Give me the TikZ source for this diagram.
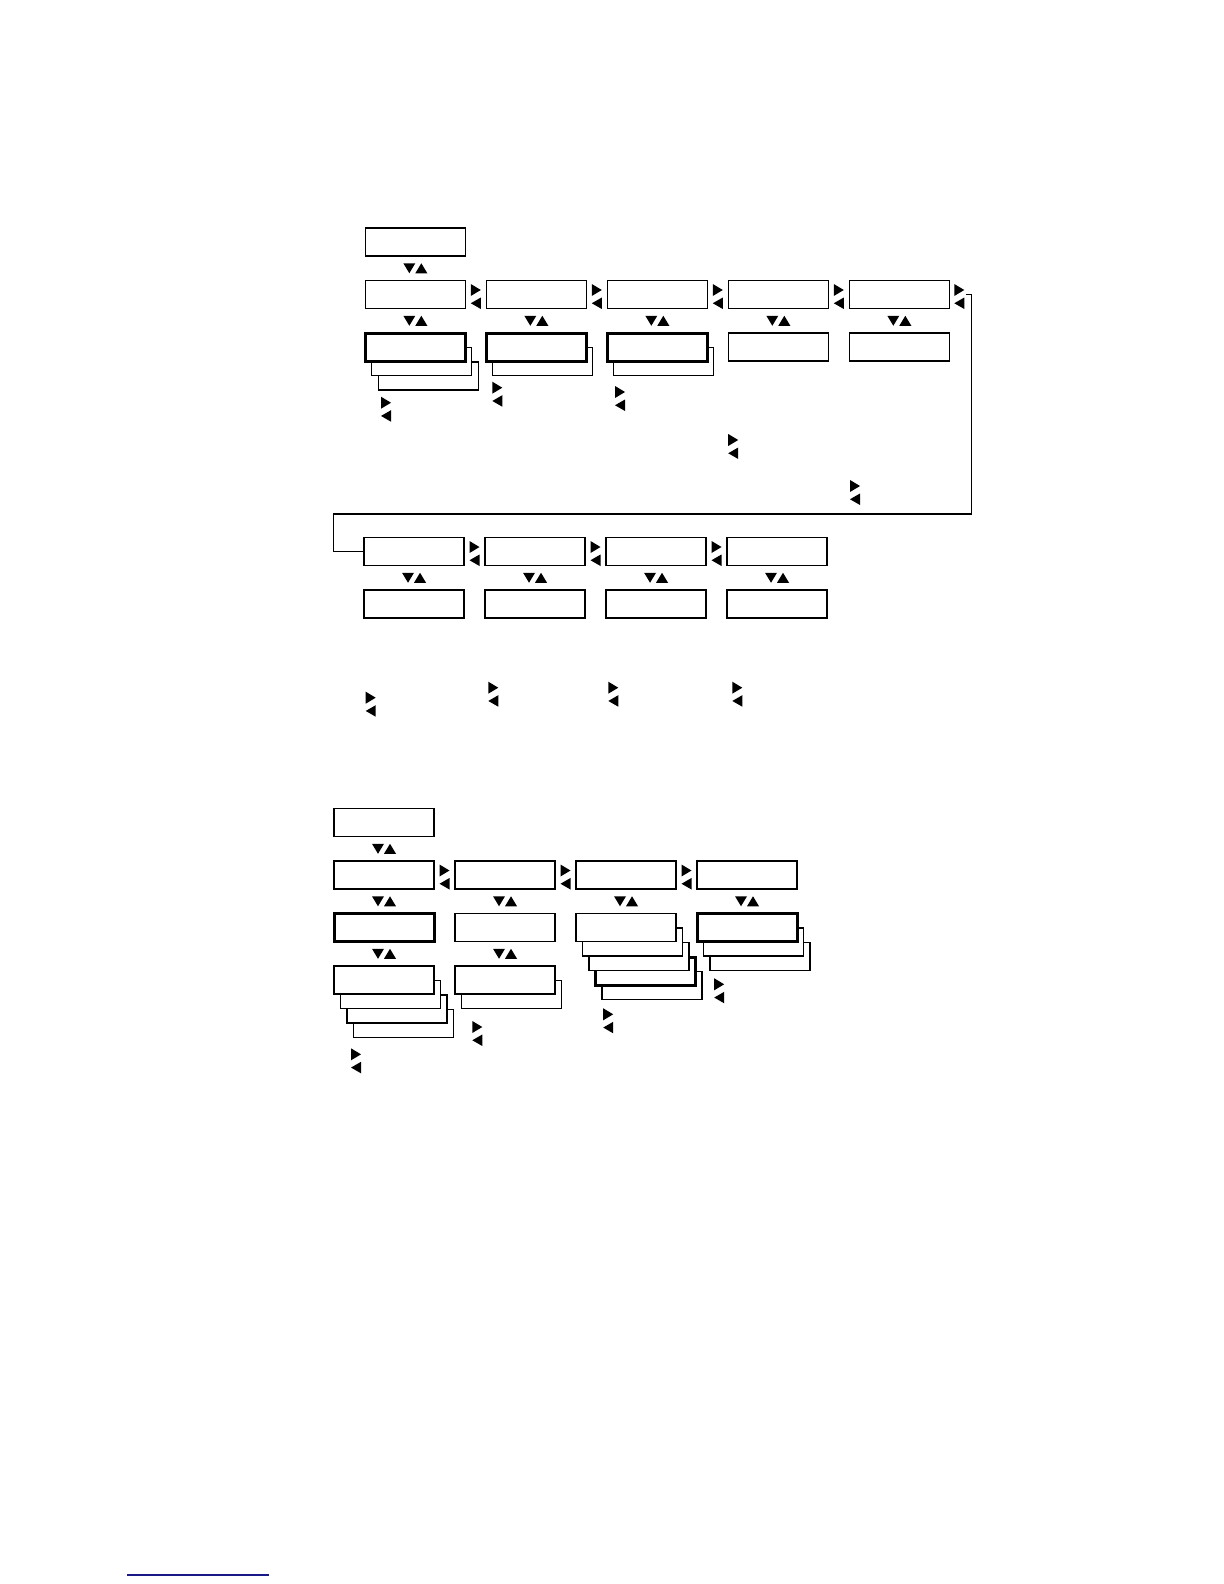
\documentclass[tikz,border=0pt]{standalone}
\usepackage{tikz}
\usetikzlibrary{positioning, calc, backgrounds}
\definecolor{linkblue}{RGB}{25,25,135}

% down/up and right/left key marks
\newcommand{\updn}[1]{%
  \fill #1 ++(-12,-5) -- ++(12,0) -- ++(-6,10) -- cycle;
  \fill #1 ++(0,5) -- ++(12,0) -- ++(-6,-10) -- cycle;}
\newcommand{\rtlt}[1]{%
  \fill #1 ++(-5,-10.5) -- ++(0,12) -- ++(10,-6) -- cycle;
  \fill #1 ++(5,3) -- ++(0,11.5) -- ++(-10,-5.75) -- cycle;}

\begin{document}
\begin{tikzpicture}[
    x=0.5pt, y=-0.5pt,
    node distance=12.25pt and 10.5pt,
    box/.style={rectangle, draw, fill=white, line width=0.65pt, minimum width=50pt, minimum height=14pt, inner sep=0pt, outer sep=0pt},
    sel/.style={box, line width=1.5pt},
    link/.style={line width=0.65pt}
]
\useasboundingbox (0,0) rectangle (1224,1584);
\begin{scope}[on background layer]
  \fill[white] (0,0) rectangle (1224,1584);
\end{scope}

% Menu 1, first row
\node[box, anchor=north west] (s1top) at (365.3,228) {};
\node[box, below=of s1top] (s1a) {};
\node[box, right=of s1a] (s1b) {};
\node[box, right=of s1b] (s1c) {};
\node[box, right=of s1c] (s1d) {};
\node[box, right=of s1d] (s1e) {};

% Menu 1, values
\node[sel, below=of s1a] (s1a2) {};
\node[sel, below=of s1b] (s1b2) {};
\node[sel, below=of s1c] (s1c2) {};
\node[box, below=of s1d] (s1d2) {};
\node[box, below=of s1e] (s1e2) {};

\begin{scope}[on background layer]
  \foreach \k in {2,1}
    \node[box, anchor=north west] (s1a2-\k) at ($(s1a2.north west)+(\k*6.5,\k*14.5)$) {};
  \node[box, anchor=north west] (s1b2-1) at ($(s1b2.north west)+(6.5,14.5)$) {};
  \node[box, anchor=north west] (s1c2-1) at ($(s1c2.north west)+(6.5,14.5)$) {};
\end{scope}

% Menu 1, second row
\node[box, anchor=north west] (s2a) at (364,537.5) {};
\node[box, right=of s2a] (s2b) {};
\node[box, right=of s2b] (s2c) {};
\node[box, right=of s2c] (s2d) {};
\foreach \n in {s2a,s2b,s2c,s2d}
  \node[box, below=of \n] (\n2) {};

% Menu 2
\node[box, anchor=north west] (s3top) at (334,808.5) {};
\node[box, below=of s3top] (s3a) {};
\node[box, right=of s3a] (s3b) {};
\node[box, right=of s3b] (s3c) {};
\node[box, right=of s3c] (s3d) {};
\node[sel, below=of s3a] (s3a2) {};
\node[box, below=of s3b] (s3b2) {};
\node[box, below=of s3c] (s3c2) {};
\node[sel, below=of s3d] (s3d2) {};
\node[box, below=of s3a2] (s3a3) {};
\node[box, below=of s3b2] (s3b3) {};

\begin{scope}[on background layer]
  \foreach \k/\st in {4/box,3/sel,2/box,1/box}
    \node[\st, anchor=north west] (s3c2-\k) at ($(s3c2.north west)+(\k*6.5,\k*14.5)$) {};
  \foreach \k in {2,1}
    \node[box, anchor=north west] (s3d2-\k) at ($(s3d2.north west)+(\k*6.5,\k*14.5)$) {};
  \foreach \k in {3,2,1}
    \node[box, anchor=north west] (s3a3-\k) at ($(s3a3.north west)+(\k*6.5,\k*14.5)$) {};
  \node[box, anchor=north west] (s3b3-1) at ($(s3b3.north west)+(6.5,14.5)$) {};
\end{scope}

% Up/down marks
\foreach \u/\l in {s1top/s1a, s1a/s1a2, s1b/s1b2, s1c/s1c2, s1d/s1d2, s1e/s1e2,
                   s2a/s2a2, s2b/s2b2, s2c/s2c2, s2d/s2d2,
                   s3top/s3a, s3a/s3a2, s3b/s3b2, s3c/s3c2, s3d/s3d2, s3a2/s3a3, s3b2/s3b3}
  \updn{($(\u.south)!0.5!(\l.north)$)};

% Right/left marks
\foreach \l/\r in {s1a/s1b, s1b/s1c, s1c/s1d, s1d/s1e,
                   s2a/s2b, s2b/s2c, s2c/s2d,
                   s3a/s3b, s3b/s3c, s3c/s3d}
  \rtlt{($(\l.east)!0.5!(\r.west)$)};
\rtlt{($(s1e.east)+(10,0)$)}
\foreach \x/\y in {386/407.2, 497.3/392.2, 620/396.5, 733.2/444.5, 855/490.5,
                   370.7/702.2, 493.3/692.2, 613.3/692.2, 737.3/692.2,
                   719.2/988.8, 608.2/1018.8, 477.3/1031.5, 356/1058.8}
  \rtlt{(\x,\y)};

% Wrap to second row
\coordinate (s1ret) at ($(s1e.east)+(17,0)$);
\draw[link] (s1ret) -- ++(5,0) |- (333.3,514) |- (s2a.west);

% Link rule
\draw[linkblue, line width=0.6pt] (127,1575) -- (269,1575);

\end{tikzpicture}
\end{document}
